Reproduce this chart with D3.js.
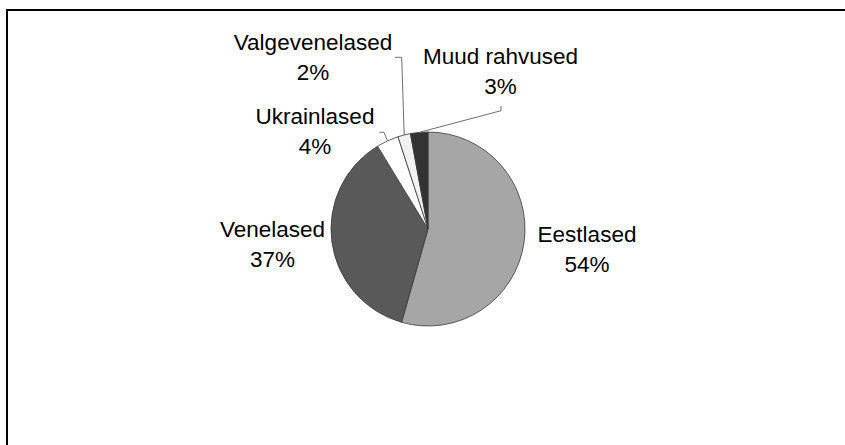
<!DOCTYPE html>
<html>
<head>
<meta charset="utf-8">
<script src="https://cdn.jsdelivr.net/npm/d3@7"></script>
<style>
  html, body { margin: 0; padding: 0; background: #fff; }
  svg { display: block; }
  text { font-family: "Liberation Sans", Arial, sans-serif; fill: #000; }
</style>
</head>
<body>
<svg id="chart" width="845" height="445"></svg>
<script>
// ---- data ----
const categories = ["Eestlased", "Venelased", "Ukrainlased", "Valgevenelased", "Muud rahvused"];
const values = [54.4, 36.9, 3.7, 2.1, 2.9];
const percentLabels = ["54%", "37%", "4%", "2%", "3%"];
const colors = ["#a6a6a6", "#595959", "#ffffff", "#f2f2f2", "#333333"];

// ---- layout (label placement, relative to the page) ----
const cx = 428, cy = 229, r = 97;
const labelPos = [
  { x: 587, y: 242 },
  { x: 272.5, y: 237 },
  { x: 315, y: 124 },
  { x: 313, y: 50 },
  { x: 500.5, y: 64 }
];
// leader-line start points for small slices (null = no leader)
const leaders = [
  null,
  null,
  [[379.3, 132.3], [384, 132.3]],
  [[395, 57.3], [401.7, 57.3]],
  [[501, 106], [501, 110.7]]
];

const svg = d3.select("#chart");

// outer frame
svg.append("rect")
  .attr("x", 7).attr("y", 10)
  .attr("width", 850).attr("height", 450)
  .attr("fill", "none")
  .attr("stroke", "#000")
  .attr("stroke-width", 2);

const data = categories.map((c, i) => ({ name: c, value: values[i], pct: percentLabels[i], color: colors[i], i }));

const pie = d3.pie().value(d => d.value).sort(null).startAngle(0).endAngle(2 * Math.PI);
const arcs = pie(data);
const arc = d3.arc().innerRadius(0).outerRadius(r);

const g = svg.append("g").attr("transform", `translate(${cx},${cy})`);
g.selectAll("path.slice")
  .data(arcs)
  .join("path")
  .attr("class", "slice")
  .attr("d", arc)
  .attr("fill", d => d.data.color)
  .attr("stroke", "#3a3a3a")
  .attr("stroke-width", 0.8)
  .attr("stroke-linejoin", "round");

// leader lines
arcs.forEach((a, i) => {
  if (!leaders[i]) return;
  const mid = (a.startAngle + a.endAngle) / 2;
  const px = cx + r * Math.sin(mid);
  const py = cy - r * Math.cos(mid);
  const pts = leaders[i].concat([[px, py]]);
  svg.append("path")
    .attr("d", d3.line()(pts))
    .attr("fill", "none")
    .attr("stroke", "#6e6e6e")
    .attr("stroke-width", 1);
});

// labels
const fontSize = 22.5;
const lineGap = 30;
const labels = svg.append("g");
data.forEach((d, i) => {
  const t = labels.append("text")
    .attr("text-anchor", "middle")
    .style("font-size", fontSize + "px");
  t.append("tspan").attr("x", labelPos[i].x).attr("y", labelPos[i].y).text(d.name);
  t.append("tspan").attr("x", labelPos[i].x).attr("y", labelPos[i].y + lineGap).text(d.pct);
});
</script>
</body>
</html>
